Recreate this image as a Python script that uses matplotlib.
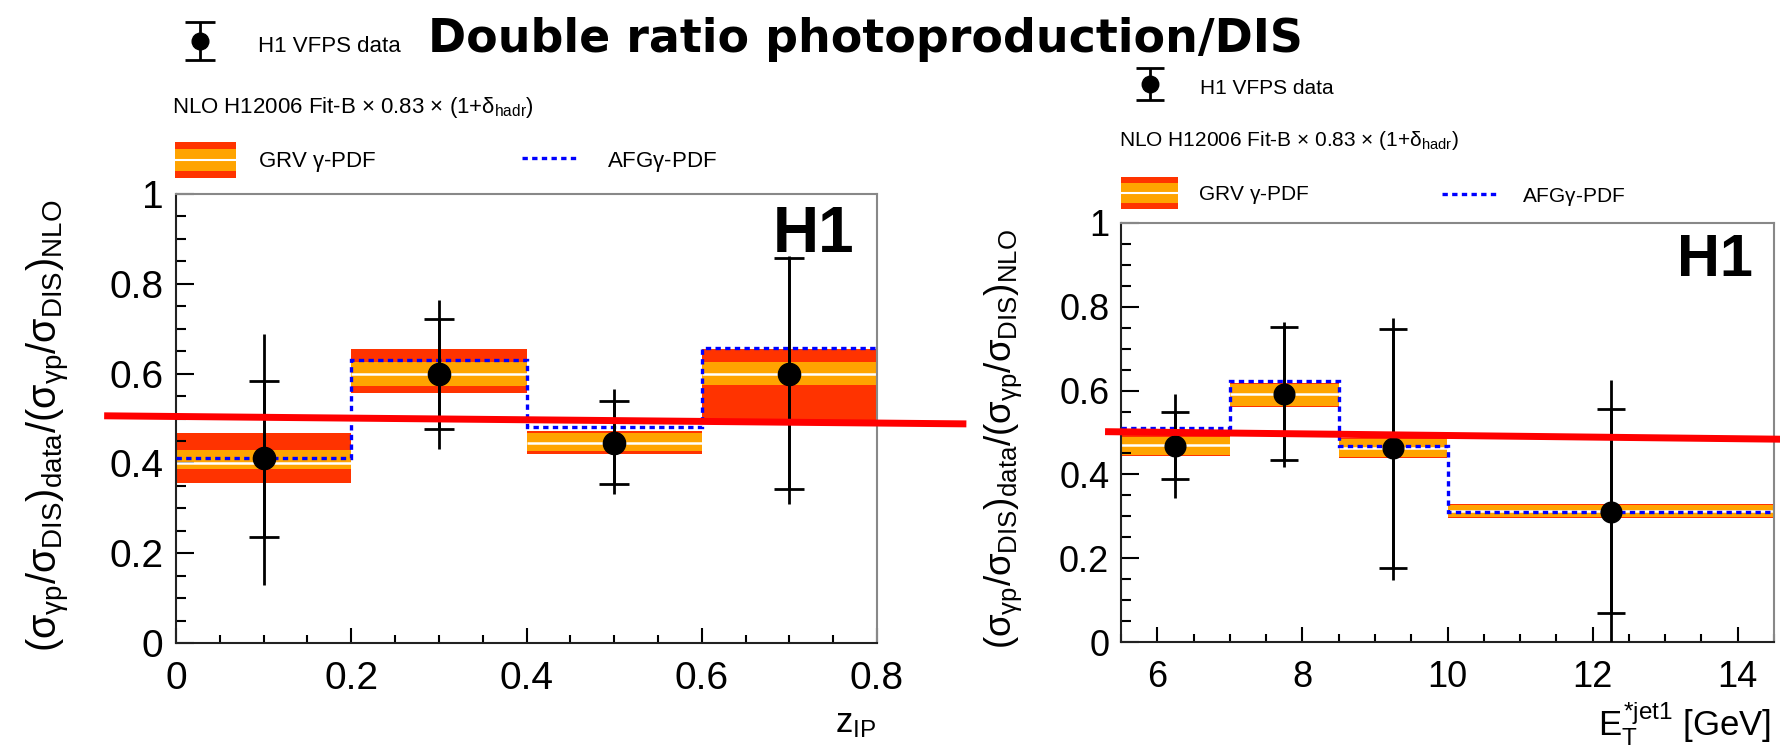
import matplotlib
matplotlib.use('Agg')
import matplotlib.pyplot as plt
import matplotlib.ticker as ticker
import numpy as np
from matplotlib.patches import Rectangle
from matplotlib.lines import Line2D
from matplotlib.legend_handler import HandlerBase, HandlerErrorbar

plt.rcParams['font.family'] = 'Liberation Sans'
plt.rcParams['mathtext.fontset'] = 'custom'
plt.rcParams['mathtext.rm'] = 'Liberation Sans'
plt.rcParams['mathtext.it'] = 'Liberation Sans'
plt.rcParams['mathtext.bf'] = 'Liberation Sans:bold'

W, H, DPI = 1781, 747, 100
RED = '#ff3300'
ORANGE = '#ffa400'

# left panel: z_IP
z_edges = [0.0, 0.2, 0.4, 0.6, 0.8]
z_x = [0.1, 0.3, 0.5, 0.7]
z_data = [0.412, 0.599, 0.446, 0.600]
z_stat_lo = [0.235, 0.477, 0.355, 0.343]
z_stat_hi = [0.584, 0.721, 0.540, 0.858]
z_tot_lo = [0.130, 0.432, 0.331, 0.309]
z_tot_hi = [0.689, 0.765, 0.566, 0.862]
z_grv = [0.400, 0.599, 0.446, 0.600]
z_grv_in_lo = [0.387, 0.572, 0.428, 0.574]
z_grv_in_hi = [0.429, 0.625, 0.468, 0.626]
z_grv_out_lo = [0.357, 0.556, 0.422, 0.495]
z_grv_out_hi = [0.468, 0.654, 0.473, 0.654]
z_afg = [0.412, 0.631, 0.482, 0.657]
z_fit_x = [-0.082, 0.902]
z_fit_y = [0.506, 0.488]

# right panel: E_T jet1
et_edges = [5.5, 7.0, 8.5, 10.0, 14.5]
et_x = [6.25, 7.75, 9.25, 12.25]
et_data = [0.467, 0.592, 0.463, 0.311]
et_stat_lo = [0.389, 0.434, 0.177, 0.070]
et_stat_hi = [0.548, 0.751, 0.748, 0.557]
et_tot_lo = [0.344, 0.417, 0.148, -0.05]
et_tot_hi = [0.592, 0.763, 0.774, 0.626]
et_grv = [0.469, 0.592, 0.463, 0.313]
et_grv_in_lo = [0.447, 0.564, 0.441, 0.298]
et_grv_in_hi = [0.490, 0.616, 0.484, 0.326]
et_grv_out_lo = [0.444, 0.561, 0.438, 0.295]
et_grv_out_hi = [0.493, 0.619, 0.487, 0.329]
et_afg = [0.510, 0.623, 0.467, 0.311]
et_fit_x = [5.28, 14.6]
et_fit_y = [0.502, 0.484]

ylabel = (r'$(\sigma_{\gamma p}/\sigma_{DIS})_{data}'
          r'/(\sigma_{\gamma p}/\sigma_{DIS})_{NLO}$')
nlo_text = r'NLO H12006 Fit-B $\times$ 0.83 $\times$ (1+$\delta_{hadr}$)'


class HandlerBand(HandlerBase):
    def create_artists(self, legend, orig_handle, xdescent, ydescent,
                       width, height, fontsize, trans):
        x0, y0 = -xdescent, -ydescent
        outer = Rectangle((x0, y0), width, height, facecolor=RED,
                          lw=0, transform=trans)
        inner = Rectangle((x0, y0 + 0.2 * height), width, 0.6 * height,
                          facecolor=ORANGE, lw=0, transform=trans)
        mid = Line2D([x0, x0 + width], [y0 + 0.5 * height] * 2,
                     color='white', lw=1.5, transform=trans)
        return [outer, inner, mid]


fig = plt.figure(figsize=(W / DPI, H / DPI), dpi=DPI)


def place_legend(handles, labels, x0, x1, xt, yc, fs, hh, **kw):
    # pixel positions of handle start/end, text start and row centre
    fs_px = fs * DPI / 72.
    return fig.legend(handles, labels, loc='center left',
                      bbox_to_anchor=(x0 / W, 1 - yc / H),
                      handlelength=(x1 - x0) / fs_px,
                      handletextpad=(xt - x1) / fs_px,
                      handleheight=hh / fs_px, fontsize=fs,
                      frameon=False, borderpad=0, borderaxespad=0, **kw)


def panel(rect, edges, x, y, slo, shi, tlo, thi, grv, ilo, ihi, olo, ohi,
          afg, fit_x, fit_y, scale):
    ax = fig.add_axes(rect)
    edges = np.array(edges)
    left, widths = edges[:-1], np.diff(edges)
    y = np.array(y)
    red = ax.bar(left, np.array(ohi) - np.array(olo), width=widths,
                 bottom=olo, align='edge', color=RED, lw=0, zorder=1)
    ax.bar(left, np.array(ihi) - np.array(ilo), width=widths, bottom=ilo,
           align='edge', color=ORANGE, lw=0, zorder=1.5)
    ax.hlines(grv, edges[:-1], edges[1:], color='white', lw=1.8, zorder=2)
    afg_line = ax.stairs(afg, edges, baseline=None, color='#0000ff',
                         lw=2.4, ls=(0, (1.6, 1.3)), zorder=3)
    ax.errorbar(x, y, yerr=[y - np.array(tlo), np.array(thi) - y],
                fmt='none', ecolor='black', elinewidth=2, zorder=4)
    stat = ax.errorbar(x, y, yerr=[y - np.array(slo), np.array(shi) - y],
                       fmt='o', color='black', ms=16 * scale,
                       elinewidth=2, capsize=10.5 * scale, capthick=2,
                       zorder=5)
    ax.plot(fit_x, fit_y, color='#ff0000', lw=5, clip_on=False, zorder=6,
            solid_capstyle='butt')

    ax.set_xlim(edges[0], edges[-1])
    ax.set_ylim(0, 1)
    ax.yaxis.set_major_locator(ticker.MultipleLocator(0.2))
    ax.yaxis.set_minor_locator(ticker.MultipleLocator(0.05))
    ax.yaxis.set_major_formatter(ticker.FormatStrFormatter('%g'))
    ax.xaxis.set_major_formatter(ticker.FormatStrFormatter('%g'))
    ax.tick_params(direction='in', top=False, right=False, width=1.5,
                   labelsize=28 * scale, which='both')
    ax.tick_params(axis='x', which='major', length=11, pad=13)
    ax.tick_params(axis='x', which='minor', length=6)
    ax.tick_params(axis='y', which='major', length=13, pad=9 * scale)
    ax.tick_params(axis='y', which='minor', length=7)
    for side in ['left', 'bottom']:
        ax.spines[side].set_linewidth(1.5)
        ax.spines[side].set_color('#222222')
    for side in ['top', 'right']:
        ax.spines[side].set_linewidth(1.5)
        ax.spines[side].set_color('#888888')
    ax.text(0.968, 0.975, 'H1', transform=ax.transAxes, ha='right',
            va='top', fontsize=46 * scale, fontweight='bold')
    ax.set_ylabel(ylabel, fontsize=28.5 * scale)
    ax.yaxis.set_label_coords(-0.148, 0.485)
    return ax, stat, red, afg_line


axl, stat_l, red_l, afg_l = panel(
    [176 / W, 1 - 643 / H, 701 / W, 449 / H], z_edges, z_x, z_data,
    z_stat_lo, z_stat_hi, z_tot_lo, z_tot_hi, z_grv, z_grv_in_lo,
    z_grv_in_hi, z_grv_out_lo, z_grv_out_hi, z_afg, z_fit_x, z_fit_y, 1.0)
axl.xaxis.set_major_locator(ticker.MultipleLocator(0.2))
axl.xaxis.set_minor_locator(ticker.MultipleLocator(0.05))
axl.set_xlabel(r'$z_{IP}$', fontsize=25, ha='right', va='baseline')
axl.xaxis.set_label_coords(0.998, -0.198)

axr, stat_r, red_r, afg_r = panel(
    [1121 / W, 1 - 642 / H, 653 / W, 419 / H], et_edges, et_x, et_data,
    et_stat_lo, et_stat_hi, et_tot_lo, et_tot_hi, et_grv, et_grv_in_lo,
    et_grv_in_hi, et_grv_out_lo, et_grv_out_hi, et_afg, et_fit_x, et_fit_y,
    0.93)
axr.xaxis.set_major_locator(ticker.MultipleLocator(2))
axr.xaxis.set_minor_locator(ticker.MultipleLocator(0.5))
axr.set_xlabel(r'$E_{T}^{*jet1}$ [GeV]', fontsize=25, ha='right',
               va='baseline')
axr.xaxis.set_label_coords(0.995, -0.225)

# legends, left panel
place_legend([stat_l], ['H1 VFPS data'], 184, 216, 258, 45, 16, 40,
             handler_map={stat_l: HandlerErrorbar(xerr_size=0.85)},
             markerscale=0.75)
fig.text(172 / W, 1 - 113 / H, nlo_text, fontsize=16, va='baseline')
place_legend([red_l], [r'GRV $\gamma$-PDF'], 175, 236, 258, 160, 16, 46,
             handler_map={red_l: HandlerBand()})
place_legend([afg_l], [r'AFG$\gamma$-PDF'], 522, 580, 607, 162, 16, 20)

# legends, right panel
place_legend([stat_r], ['H1 VFPS data'], 1135, 1165, 1200, 87, 15, 32,
             handler_map={stat_r: HandlerErrorbar(xerr_size=0.75)},
             markerscale=0.8)
fig.text(1119 / W, 1 - 146 / H, nlo_text, fontsize=15, va='baseline')
place_legend([red_r], [r'GRV $\gamma$-PDF'], 1121, 1178, 1198, 193, 15, 41,
             handler_map={red_r: HandlerBand()})
place_legend([afg_r], [r'AFG$\gamma$-PDF'], 1442, 1498, 1522, 197, 15, 18)

fig.text(865 / W, 1 - 52 / H, 'Double ratio photoproduction/DIS',
         ha='center', va='baseline', fontsize=33, fontweight='bold',
         family='DejaVu Sans')

fig.savefig('out.png', dpi=DPI, facecolor='white')
